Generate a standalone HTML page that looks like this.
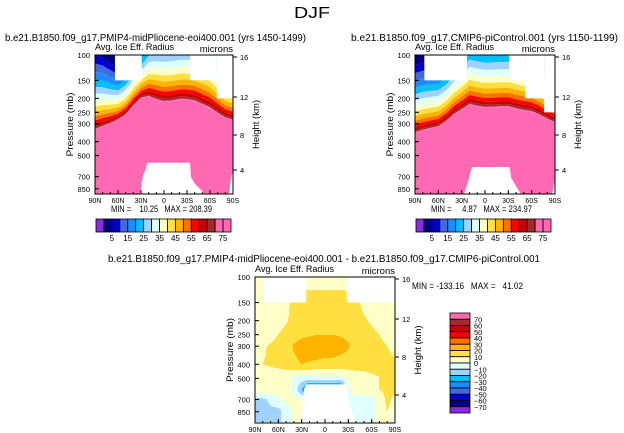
<!DOCTYPE html>
<html><head><meta charset="utf-8">
<style>
html,body{margin:0;padding:0;background:#fff;}
svg{display:block;font-family:"Liberation Sans",sans-serif;}
text{fill:#000;}
.pre{white-space:pre;}
</style></head>
<body>
<svg id="fig" width="624" height="433" viewBox="0 0 624 433" xmlns="http://www.w3.org/2000/svg">
<rect width="624" height="433" fill="#fff"/>
<text x="312" y="18" font-size="16" text-anchor="middle" textLength="36" lengthAdjust="spacingAndGlyphs" fill="#222">DJF</text>
<text x="5" y="41" font-size="10" textLength="301" lengthAdjust="spacingAndGlyphs">b.e21.B1850.f09_g17.PMIP4-midPliocene-eoi400.001 (yrs 1450-1499)</text>
<text x="351" y="41" font-size="10" textLength="267" lengthAdjust="spacingAndGlyphs">b.e21.B1850.f09_g17.CMIP6-piControl.001 (yrs 1150-1199)</text>
<text x="108" y="262" font-size="10" textLength="432" lengthAdjust="spacingAndGlyphs">b.e21.B1850.f09_g17.PMIP4-midPliocene-eoi400.001 - b.e21.B1850.f09_g17.CMIP6-piControl.001</text>
<g id="layer"></g>
</svg>
<script>
// ---------- DATA ----------
const lats = [90,80,70,60,50,40,30,20,10,0,-10,-20,-30,-40,-50,-60,-70,-80,-90];
// Left (midPliocene) panel: pressure (hPa) where radius reaches 75 microns
const leftPinkTop = [330,315,300,283,260,225,200,195,205,212,210,205,205,210,222,235,255,275,285];
const leftDepth   = [0.52,0.48,0.42,0.36,0.36,0.38,0.40,0.50,0.56,0.58,0.58,0.58,0.58,0.60,0.60,0.60,0.55,0.50,0.49];
const leftMaskLat1 = [64,-34,-69];
const leftMaskLat2 = [29,-69,-90];
const leftMaskP    = [150,150,200];
const leftSurfLat = [90,32,31,28,23,22,-34,-35,-40,-50,-56,-84,-87,-90];
const leftSurfP   = [1000,1000,922,700,600,560,560,700,780,880,1000,1000,720,650];
// Right (piControl) panel
const rightPinkTop = [348,335,325,316,290,260,241,222,228,233,232,230,230,238,244,249,262,280,296];
const rightDepth   = [0.47,0.47,0.46,0.45,0.45,0.48,0.50,0.55,0.55,0.55,0.55,0.55,0.55,0.55,0.55,0.55,0.52,0.50,0.50];
const rightMaskLat1 = [78,-31,-52,-76];
const rightMaskLat2 = [23,-52,-76,-90];
const rightMaskP    = [150,150,200,250];
const rightSurfLat = [90,28,27,17,-32,-33,-45,-50,-85,-90];
const rightSurfP   = [1000,1000,922,600,600,700,900,1000,1000,720];
// Difference panel grid values (microns), rows = pressure levels
const diffLevels = [100,150,200,250,300,400,500,600,700,850,1000];
const diffVals = [
 [5,5,5,5,5,5,5,5,5,5,5,5,5,5,5,5,5,5,5],
 [5,5,5,5,8,12,14,15,15,15,15,15,14,12,8,5,5,5,5],
 [5,5,5,6,9,13,15,16,17,17,17,16,15,13,11,9,6,5,5],
 [5,5,7,10,13,16,18,19,20,20,20,19,18,16,14,12,10,7,6],
 [6,9,11,13,16,21,24,25,26,25,25,24,21,16,14,13,12,10,8],
 [8,10,11,12,14,18,20,19,18,17,17,16,15,15,14,14,13,12,11],
 [5,5,5,5,4,-3,-5,-5,-5,-5,-5,-3,2,5,6,8,10,12,12],
 [5,5,5,5,3,-2,-20,-45,-45,-45,-45,-45,-2,3,5,8,10,12,12],
 [-12,-12,-8,-2,2,2,0,0,0,0,0,0,0,-2,-5,-5,5,12,8],
 [-12,-14,-12,-14,-4,2,0,0,0,0,0,0,0,-3,-5,-5,5,10,5],
 [-12,-14,-12,-14,-4,2,0,0,0,0,0,0,0,-3,-5,-5,5,10,5]
];
const diffMaskLat1 = [80,-28];
const diffMaskLat2 = [24,-90];
const diffMaskP    = [150,150];
const diffSurfLat = [90,32,27,25,-28,-30,-40,-86,-88,-90];
const diffSurfP   = [1000,1000,600,550,550,700,1000,1000,750,750];
const diffMin = "-133.16", diffMax = "41.02";
// Color scales
const absLevels = [0,5,10,15,20,25,30,35,40,45,50,55,60,65,70,75];
const absColors = ["#8a2be2","#000080","#0000cd","#4169e1","#1e8cff","#00bfff","#a0d2ff","#e0ffff","#ffffc8","#ffe040","#ffb400","#ff7000","#ff0000","#c80000","#a52a2a","#ff69b4"];
const absColorTop = "#ff69b4";
const absLabels = ["5","15","25","35","45","55","65","75"];
const diffBounds = [-70,-60,-50,-40,-30,-20,-10,0,10,20,30,40,50,60,70];
const diffColors = ["#8a2be2","#000080","#0000cd","#4169e1","#1e8cff","#00bfff","#a0d2ff","#e0ffff","#ffffc8","#ffe040","#ffb400","#ff7000","#ff0000","#c80000","#a52a2a","#ff69b4"];
const pTickVals = [100,150,200,250,300,400,500,700,850];
const hTickLabels = ["16","12","8","4"];
const latTickLabels = ["90N","60N","30N","0","30S","60S","90S"];

// ---------- HELPERS ----------
const NS="http://www.w3.org/2000/svg";
const layer=document.getElementById('layer');
function mk(tag,attrs,parent){const e=document.createElementNS(NS,tag);for(const k in attrs)e.setAttribute(k,attrs[k]);(parent||layer).appendChild(e);return e;}
function interp(xs,ys,x){ // xs descending
  if(x>=xs[0])return ys[0];
  for(let i=0;i<xs.length-1;i++){if(x<=xs[i]&&x>=xs[i+1]){const t=(xs[i]===xs[i+1])?0:(xs[i]-x)/(xs[i]-xs[i+1]);return ys[i]+t*(ys[i+1]-ys[i]);}}
  return ys[ys.length-1];
}
function colorDiff(v){let i=0;while(i<diffBounds.length&&v>=diffBounds[i])i++;return diffColors[i];}

function axes(g,x0,y0,w,h,yOf,hTickYs){
  mk('rect',{x:x0,y:y0,width:w,height:h,fill:'none',stroke:'#000','stroke-width':1},g);
  for(const p of pTickVals){const y=yOf(p);
    mk('line',{x1:x0,x2:x0+4,y1:y,y2:y,stroke:'#000'},g);
    const t=mk('text',{x:x0-5,y:y+3,'font-size':7.5,'text-anchor':'end'},g);t.textContent=p;
    
    
  }
  hTickLabels.forEach((l,i)=>{const y=hTickYs[i];
    mk('line',{x1:x0+w,x2:x0+w+4,y1:y,y2:y,stroke:'#000'},g);
    const t=mk('text',{x:x0+w+7,y:y+3,'font-size':7.5},g);t.textContent=l;
    
    
  });
  latTickLabels.forEach((l,i)=>{const x=x0+i*w/6;
    mk('line',{x1:x,x2:x,y1:y0+h,y2:y0+h-4,stroke:'#000'},g);
    const t=mk('text',{x:x,y:y0+h+9,'font-size':7,'text-anchor':'middle'},g);t.textContent=l;
    
    
  });
  for(let i=0;i<=18;i++){const x=x0+i*w/18;mk('line',{x1:x,x2:x,y1:y0+h,y2:y0+h-2,stroke:'#000'},g);}
  const a=mk('text',{x:x0,y:y0-5,'font-size':9.5,textLength:79,lengthAdjust:'spacingAndGlyphs'},g);a.textContent="Avg. Ice Eff. Radius";
  
  
  const m=mk('text',{x:x0+w,y:y0-3,'font-size':9.5,'text-anchor':'end'},g);m.textContent="microns";
  
  
  const py=y0+h*0.5;
  const px=x0-22;
  const pt=mk('text',{x:px,y:py,'font-size':9.5,'text-anchor':'middle',textLength:64,lengthAdjust:'spacingAndGlyphs',transform:`rotate(-90 ${px} ${py})`},g);pt.textContent="Pressure (mb)";
  
  
  const hx=x0+w+26;
  const ht=mk('text',{x:hx,y:py,'font-size':9.5,'text-anchor':'middle',transform:`rotate(-90 ${hx} ${py})`},g);ht.textContent="Height (km)";
  
  
}

function masks(g,x0,w,y0,yOf,bot,latToX,m1,m2,mp,sl,sp){
  for(let i=0;i<m1.length;i++){const xa=latToX(m1[i]),xb=latToX(m2[i]);
    const r=mk('rect',{x:xa,y:y0,width:xb-xa,height:yOf(mp[i])-y0,fill:'#fff'},g);
    
    }
  let pts=[];
  for(let c=0;c<=w;c++){const lat=90-c/w*180;const p=interp(sl,sp,lat);pts.push((x0+c)+','+Math.min(yOf(p),bot));}
  pts.push((x0+w)+','+bot);pts.push(x0+','+bot);
  const s=mk('polygon',{points:pts.join(' '),fill:'#fff'},g);
  
  
}

function absPanel(name,x0,y0,w,h,pinkTop,depth,m1,m2,mp,sl,sp,minS,maxS){
  const g=mk('g',{});
  
  
  const yOf=p=>y0+144*(Math.log10(p)-2);
  const bot=y0+h;
  const latToX=lat=>x0+(90-lat)/180*w;
  for(let c=0;c<w;c++){
    const lat=90-(c+0.5)/w*180;
    const pt=interp(lats,pinkTop,lat), D=interp(lats,depth,lat);
    let yPrev=y0;
    for(let k=1;k<absLevels.length;k++){
      const L=absLevels[k];
      const d=D*Math.pow((75-L)/70,1/0.6);
      const yb=Math.max(y0,Math.min(bot,yOf(pt/Math.pow(10,d))));
      if(yb>yPrev){mk('rect',{x:x0+c,y:yPrev,width:1.05,height:yb-yPrev,fill:absColors[k]},g);yPrev=yb;}
    }
    if(bot>yPrev)mk('rect',{x:x0+c,y:yPrev,width:1.05,height:bot-yPrev,fill:absColorTop},g);
  }
  masks(g,x0,w,y0,yOf,bot,latToX,m1,m2,mp,sl,sp);
  axes(g,x0,y0,w,h,yOf,[57,97,135,170]);
  const mt=mk('text',{x:x0+16,y:212,'font-size':9.5,'class':'pre',textLength:101,lengthAdjust:'spacingAndGlyphs'},g);
  mt.textContent=`MIN =  ${minS}   MAX = ${maxS}`;
  
  
  const cb=mk('g',{},g);
  
  
  const bw=135/17;
  const cols=absColors.concat([absColorTop]);
  for(let i=0;i<17;i++){mk('rect',{x:x0+1+i*bw,y:219,width:bw,height:13,fill:cols[i],stroke:'#000','stroke-width':0.8},cb);}
  absLabels.forEach((l,i)=>{const t=mk('text',{x:x0+1+(2*i+2)*bw,y:241,'font-size':8,'text-anchor':'middle'},cb);t.textContent=l;
    
    });
}

absPanel('left-panel',95,55,138,139,leftPinkTop,leftDepth,leftMaskLat1,leftMaskLat2,leftMaskP,leftSurfLat,leftSurfP,"  10.25","208.39");
absPanel('right-panel',415,55,140,139,rightPinkTop,rightDepth,rightMaskLat1,rightMaskLat2,rightMaskP,rightSurfLat,rightSurfP,"   4.87","234.97");

// ---------- DIFF PANEL ----------
(function(){
  const x0=255,y0=277,w=140,h=146;
  const g=mk('g',{});
  
  
  const yOf=p=>y0+145*(Math.log10(p)-2);
  const bot=y0+h;
  const latToX=lat=>x0+(90-lat)/180*w;
  const logL=diffLevels.map(p=>Math.log10(p));
  function val(lat,p){
    const fi=(90-lat)/10;const i0=Math.max(0,Math.min(17,Math.floor(fi)));const tx=fi-i0;
    const lp=Math.log10(p);let j=0;while(j<logL.length-2&&lp>logL[j+1])j++;
    const ty=Math.max(0,Math.min(1,(lp-logL[j])/(logL[j+1]-logL[j])));
    const a=diffVals[j][i0]*(1-tx)+diffVals[j][i0+1]*tx;
    const b=diffVals[j+1][i0]*(1-tx)+diffVals[j+1][i0+1]*tx;
    return a*(1-ty)+b*ty;
  }
  for(let c=0;c<w;c++){
    const lat=90-(c+0.5)/w*180;
    let start=y0,cur=null;
    for(let y=y0;y<bot;y++){
      const p=Math.pow(10,2+(y+0.5-y0)/145);
      const col=colorDiff(val(lat,p));
      if(col!==cur){if(cur)mk('rect',{x:x0+c,y:start,width:1.05,height:y-start,fill:cur},g);cur=col;start=y;}
    }
    mk('rect',{x:x0+c,y:start,width:1.05,height:bot-start,fill:cur},g);
  }
  masks(g,x0,w,y0,yOf,bot,latToX,diffMaskLat1,diffMaskLat2,diffMaskP,diffSurfLat,diffSurfP);
  axes(g,x0,y0,w,h,yOf,[279,319,357,395]);
  const mt=mk('text',{x:412,y:289,'font-size':9.5,'class':'pre',textLength:111,lengthAdjust:'spacingAndGlyphs'},g);
  mt.textContent=`MIN = ${diffMin}   MAX =   ${diffMax}`;
  
  
  const cb=mk('g',{},g);
  
  
  const bh=100/16;
  for(let i=0;i<16;i++){mk('rect',{x:450,y:313+i*bh,width:20,height:bh,fill:diffColors[15-i],stroke:'#000','stroke-width':0.8},cb);}
  for(let i=0;i<diffBounds.length;i++){const v=diffBounds[diffBounds.length-1-i];
    const t=mk('text',{x:474,y:313+(i+1)*bh+3,'font-size':7.5},cb);t.textContent=(v<0?'\u2212':'')+Math.abs(v);
    
    }
})();
</script>
</body></html>
